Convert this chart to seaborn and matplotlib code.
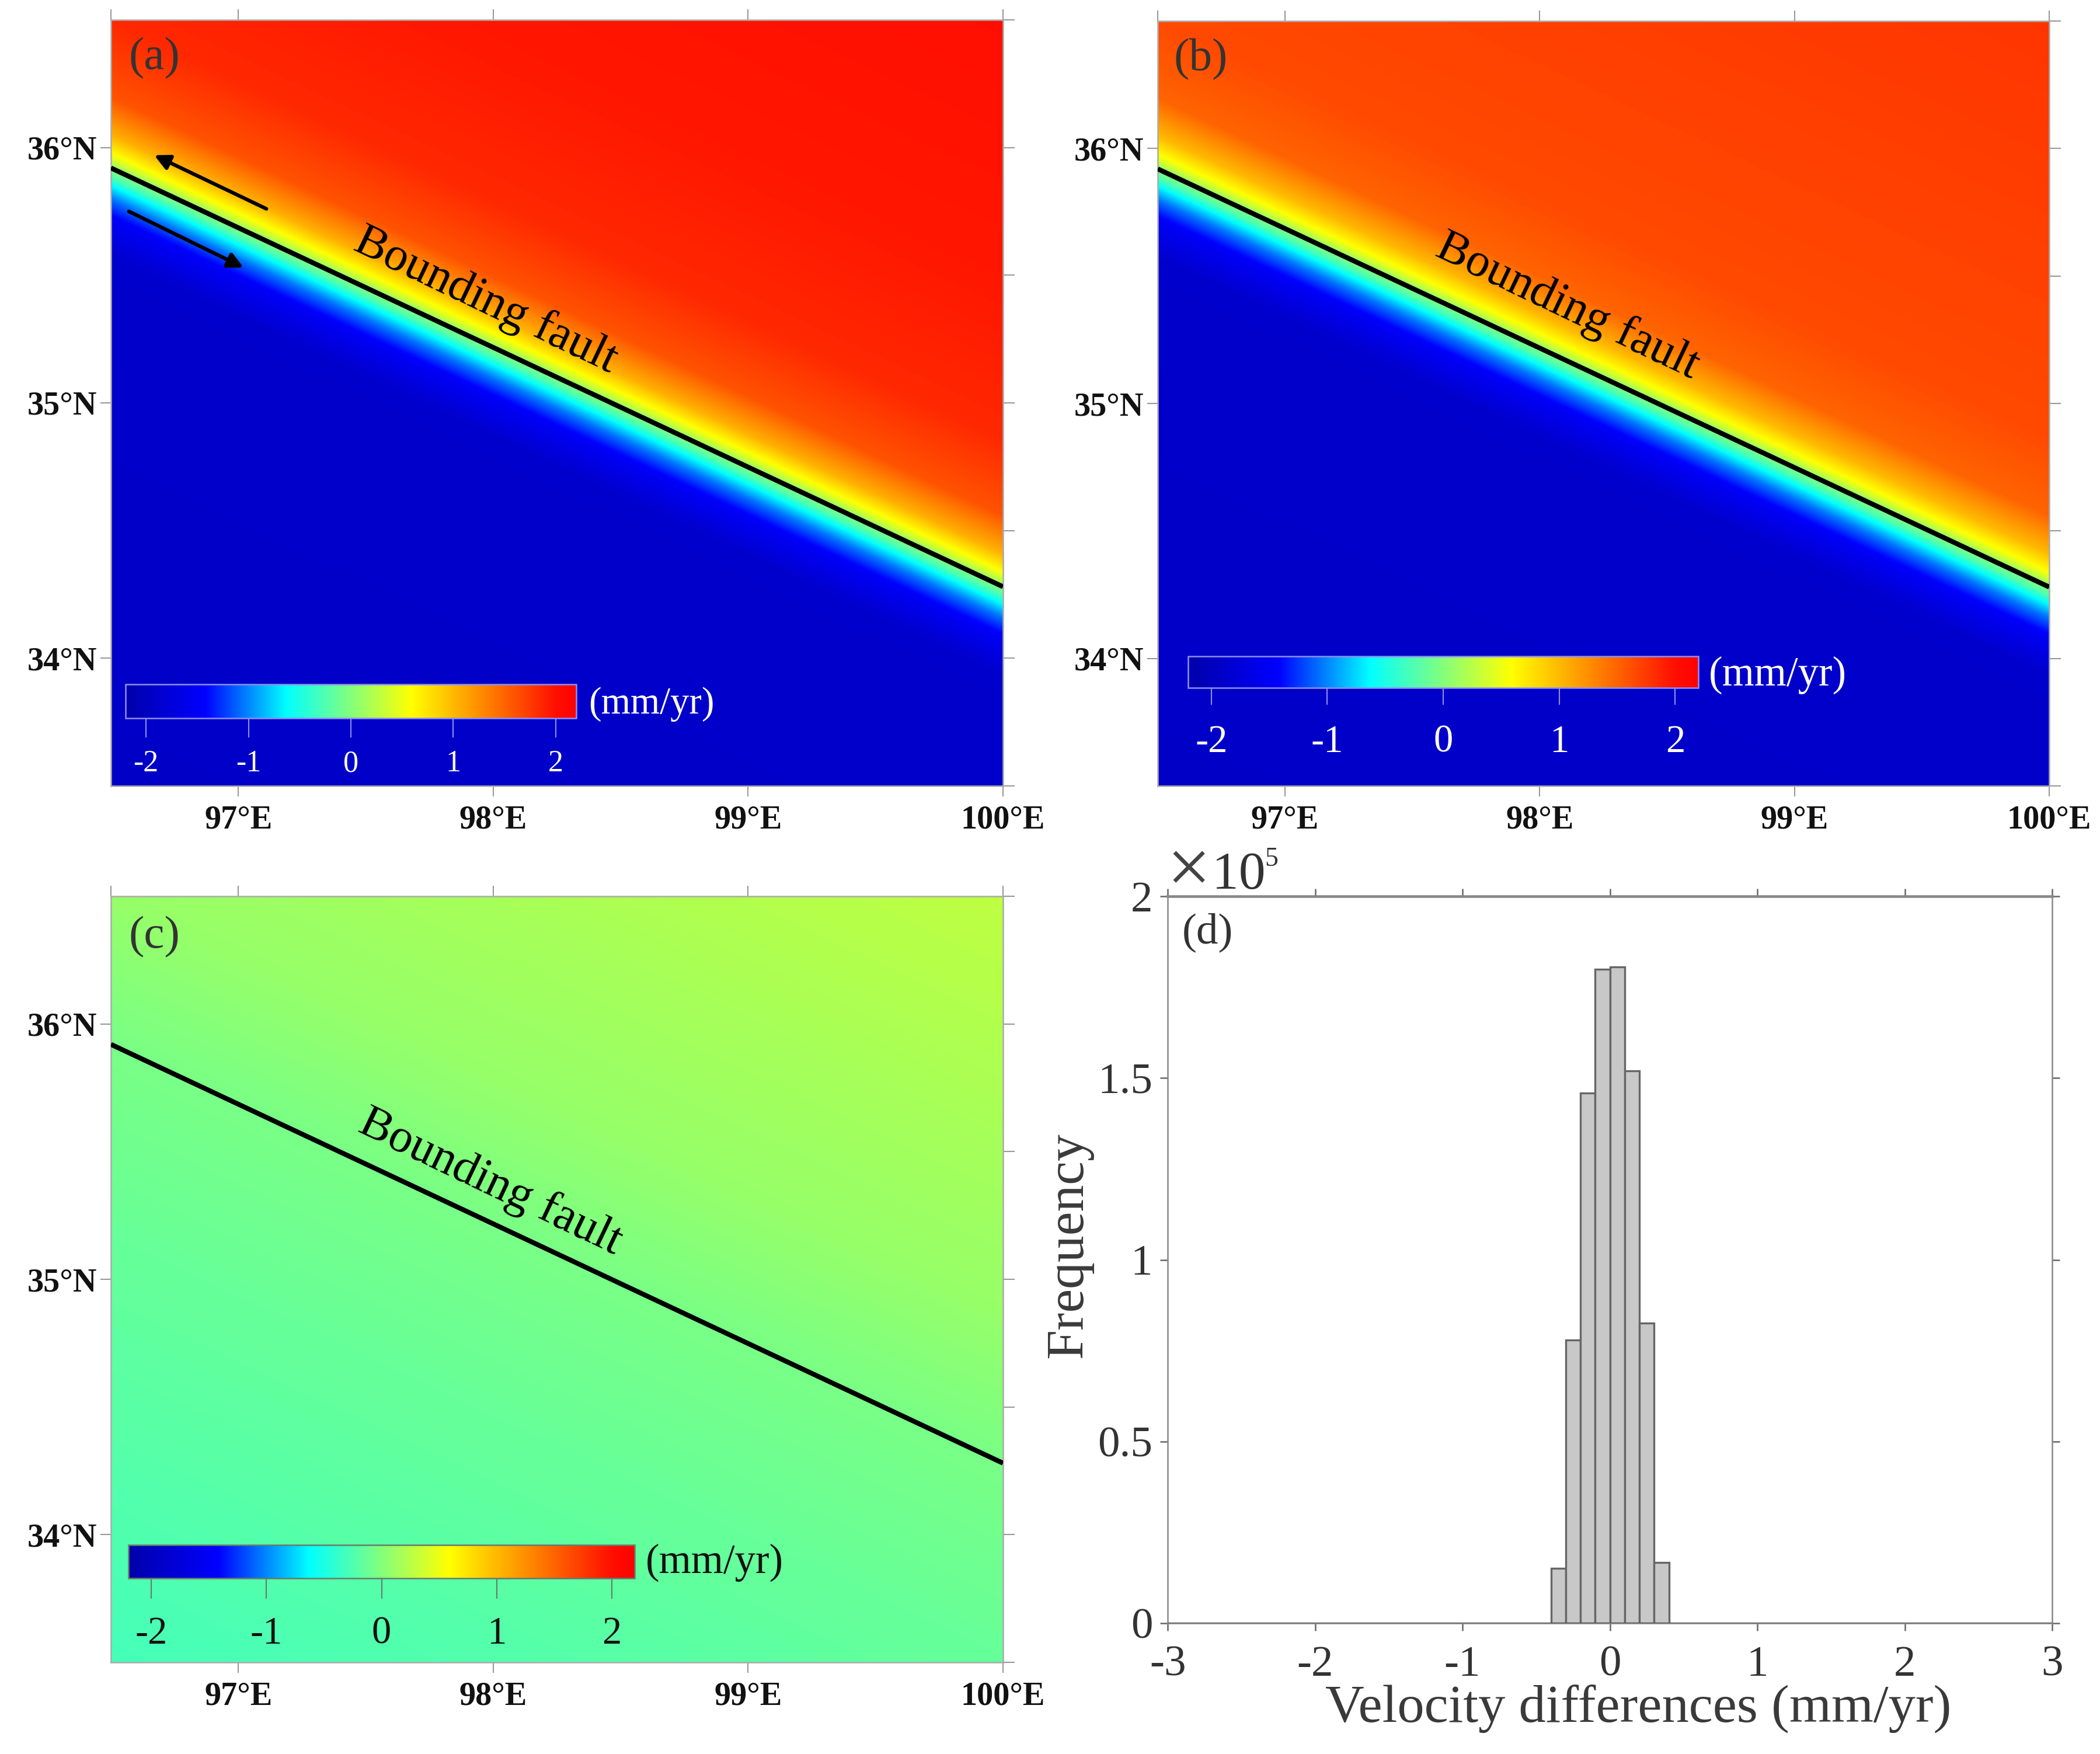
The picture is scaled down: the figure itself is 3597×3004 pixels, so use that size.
import numpy as np
import matplotlib
matplotlib.use("Agg")
import matplotlib.pyplot as plt
from matplotlib.colors import LinearSegmentedColormap, Normalize
from matplotlib.cm import ScalarMappable
import seaborn as sns

sns.set_theme(style="white")
plt.rcParams['font.family'] = ['Liberation Serif', 'DejaVu Serif']

W, H = 3597, 3004

# ---- data ----
fault_lon = [96.5, 100.0]
fault_lat = [35.92, 34.28]

# velocity (mm/yr) against latitude offset from the fault (deg)
offset_a = [-3.2, -0.35, -0.2, -0.12, -0.07, -0.03, 0.0, 0.03, 0.06, 0.13, 0.28, 0.58, 1.2, 2.3]
veloc_a = [-1.95, -1.88, -1.5, -1.05, -0.65, -0.2, 0.0, 0.35, 0.6, 1.05, 1.6, 1.85, 1.95, 2.0]
offset_b = [-3.2, -0.35, -0.2, -0.12, -0.07, -0.03, 0.0, 0.03, 0.06, 0.13, 0.28, 0.58, 1.2, 2.3]
veloc_b = [-1.95, -1.88, -1.5, -1.05, -0.65, -0.2, 0.0, 0.35, 0.6, 1.0, 1.5, 1.65, 1.7, 1.78]
offset_c = [-3.2, -2.42, -0.77, 0.0, 0.58, 2.22]
veloc_c = [-0.33, -0.3, -0.14, -0.05, 0.09, 0.28]

hist_edges = [-0.4, -0.3, -0.2, -0.1, 0.0, 0.1, 0.2, 0.3, 0.4]
hist_centers = [-0.35, -0.25, -0.15, -0.05, 0.05, 0.15, 0.25, 0.35]
hist_counts = [15100, 77900, 145800, 180000, 180500, 151900, 82500, 16700]

lon_ticks = [97, 98, 99, 100]
lat_ticks = [34, 35, 36]
lat_minor = [33.5, 34, 34.5, 35, 35.5, 36, 36.5]
lon_top = [96.5, 97, 98, 99, 100]
cbar_ticks = [-2, -1, 0, 1, 2]
d_xticks = [-3, -2, -1, 0, 1, 2, 3]
d_yticks = [0, 50000, 100000, 150000, 200000]
d_ylabels = ['0', '0.5', '1', '1.5', '2']

cmap = LinearSegmentedColormap.from_list("field", [
    (0.0, (0, 0, 170 / 255)),
    ((-1.42 + 2.2) / 4.4, (0, 0, 1)),
    ((-0.63 + 2.2) / 4.4, (0, 1, 1)),
    ((0.59 + 2.2) / 4.4, (1, 1, 0)),
    ((2.0 + 2.2) / 4.4, (1, 15 / 255, 0)),
    (1.0, (1, 0, 0)),
], N=512)
norm = Normalize(-2.2, 2.2)


def px_axes(fig, x0, y0, x1, y1):
    return fig.add_axes([x0 / W, 1 - y1 / H, (x1 - x0) / W, (y1 - y0) / H])


def ftext(fig, x, y, s, **kw):
    kw.setdefault('ha', 'center')
    kw.setdefault('va', 'center')
    return fig.text(x / W, 1 - y / H, s, **kw)


def map_panel(fig, box, offs, vels, tag, tag_lonlat, fault_text_lonlat):
    ax = px_axes(fig, *box)
    lon = np.linspace(96.5, 100, 900)
    lat = np.linspace(33.5, 36.5, 900)
    LO, LA = np.meshgrid(lon, lat)
    off = LA - np.interp(LO, fault_lon, fault_lat)
    Z = np.interp(off, offs, vels)
    ax.imshow(Z, extent=(96.5, 100, 33.5, 36.5), origin='lower', aspect='auto',
              cmap=cmap, norm=norm, interpolation='bilinear')
    sns.lineplot(x=fault_lon, y=fault_lat, ax=ax, color='black', lw=2.0,
                 solid_capstyle='butt', zorder=3)
    ax.set_xlim(96.5, 100)
    ax.set_ylim(33.5, 36.5)
    ax.set_xlabel('')
    ax.set_ylabel('')
    ax.set_xticks(lon_ticks)
    ax.set_xticklabels([f'{v}°E' for v in lon_ticks], fontsize=13.5, fontweight='bold', color='#111111')
    ax.set_yticks(lat_ticks)
    ax.set_yticklabels([f'{v}°N' for v in lat_ticks], fontsize=13.5, fontweight='bold', color='#111111')
    ax.tick_params(axis='x', bottom=True, length=4.3, width=0.5, color='#999999', pad=3.5)
    ax.tick_params(axis='y', left=True, length=4.3, width=0.5, color='#999999', pad=1.5)
    for s in ax.spines.values():
        s.set_color('#aaaaaa')
        s.set_linewidth(0.6)
    top = ax.secondary_xaxis('top')
    top.set_xticks(lon_top)
    top.set_xticklabels([])
    top.tick_params(length=4.3, width=0.5, color='#999999')
    top.spines['top'].set_visible(False)
    right = ax.secondary_yaxis('right')
    right.set_yticks(lat_minor)
    right.set_yticklabels([])
    right.tick_params(length=4.8, width=0.5, color='#999999')
    right.spines['right'].set_visible(False)
    ax.text(*tag_lonlat, tag, fontsize=19, color='#333333', ha='center', va='center')
    ax.text(*fault_text_lonlat, 'Bounding fault', fontsize=19.5, color='black', rotation=-25.5,
            rotation_mode='anchor', ha='center', va='center')
    return ax


def add_cbar(fig, box, lab_col, edge_col, size, tick_len, pad, unit_xy, unit_size):
    cax = px_axes(fig, *box)
    cb = fig.colorbar(ScalarMappable(norm=norm, cmap=cmap), cax=cax, orientation='horizontal')
    cb.set_ticks(cbar_ticks)
    cb.set_ticklabels([str(v) for v in cbar_ticks])
    cax.tick_params(axis='x', bottom=True, length=tick_len, width=0.5, color=edge_col,
                    labelcolor=lab_col, labelsize=size, pad=pad)
    cb.outline.set_edgecolor(edge_col)
    cb.outline.set_linewidth(0.6)
    ftext(fig, unit_xy[0], unit_xy[1], '(mm/yr)', fontsize=unit_size, color=lab_col)


fig = plt.figure(figsize=(W / 300, H / 300), dpi=300, facecolor='white')

# (a)
ax_a = map_panel(fig, (190, 34, 1718, 1346), offset_a, veloc_a, '(a)', (96.67, 36.35), (97.97, 35.40))
ax_a.annotate('', xy=(96.67, 35.97), xytext=(97.11, 35.76),
              arrowprops=dict(arrowstyle='-|>', color='black', lw=1.5, mutation_scale=13, shrinkA=0, shrinkB=0))
ax_a.annotate('', xy=(97.02, 35.53), xytext=(96.57, 35.75),
              arrowprops=dict(arrowstyle='-|>', color='black', lw=1.5, mutation_scale=13, shrinkA=0, shrinkB=0))
add_cbar(fig, (215, 1172, 987, 1230), 'white', '#8f8ff5', 12.5, 8, 5, (1116, 1206), 15.5)

# (b)
ax_b = map_panel(fig, (1983, 36, 3510, 1346), offset_b, veloc_b, '(b)', (96.67, 36.35), (98.11, 35.38))
add_cbar(fig, (2035, 1124, 2909, 1178), 'white', '#8f8ff5', 16, 7, 8, (3045, 1156), 17)

# (c)
ax_c = map_panel(fig, (190, 1535, 1718, 2847), offset_c, veloc_c, '(c)', (96.67, 36.34), (97.99, 35.38))
add_cbar(fig, (220, 2646, 1087, 2703), '#111111', '#6a7a6a', 16, 8.5, 7, (1224, 2676), 17)

# (d)
ax_d = px_axes(fig, 2000, 1535, 3515, 2780)
sns.histplot(x=hist_centers, weights=hist_counts, bins=hist_edges, ax=ax_d, stat='count',
             color='#c8c8c8', edgecolor='#666666', linewidth=0.8, alpha=1.0)
ax_d.axhline(0, color='#555555', lw=0.8, zorder=5)
ax_d.set_xlim(-3, 3)
ax_d.set_ylim(0, 200000)
ax_d.set_xticks(d_xticks)
ax_d.set_xticklabels([str(v) for v in d_xticks], fontsize=18, color='#333333')
ax_d.set_yticks(d_yticks)
ax_d.set_yticklabels(d_ylabels, fontsize=18, color='#333333')
ax_d.tick_params(axis='x', bottom=True, top=True, length=3.2, width=0.6, color='#666666', pad=6)
ax_d.tick_params(axis='y', left=True, right=True, length=3.2, width=0.6, color='#666666', pad=3)
for name, s in ax_d.spines.items():
    s.set_visible(True)
    s.set_color('#888888')
    s.set_linewidth(1.1 if name == 'top' else 0.6)
ax_d.set_xlabel('Velocity differences (mm/yr)', fontsize=22.2, color='#3a3a3a', va='top')
ax_d.xaxis.set_label_coords(0.532, -0.084)
ax_d.set_ylabel('Frequency', fontsize=22, color='#3a3a3a')
ax_d.yaxis.set_label_coords(-0.0845, 0.52)
ax_d.text(-2.73, 190000, '(d)', fontsize=18, color='#333333', ha='center', va='center')
ftext(fig, 2036, 1497, '×', fontsize=32, color='#444444', fontweight='light')
ftext(fig, 2122, 1500, '10', fontsize=22, color='#333333')
ftext(fig, 2178, 1472, '5', fontsize=11, color='#333333')

fig.savefig('out.png', dpi=300, facecolor='white')
